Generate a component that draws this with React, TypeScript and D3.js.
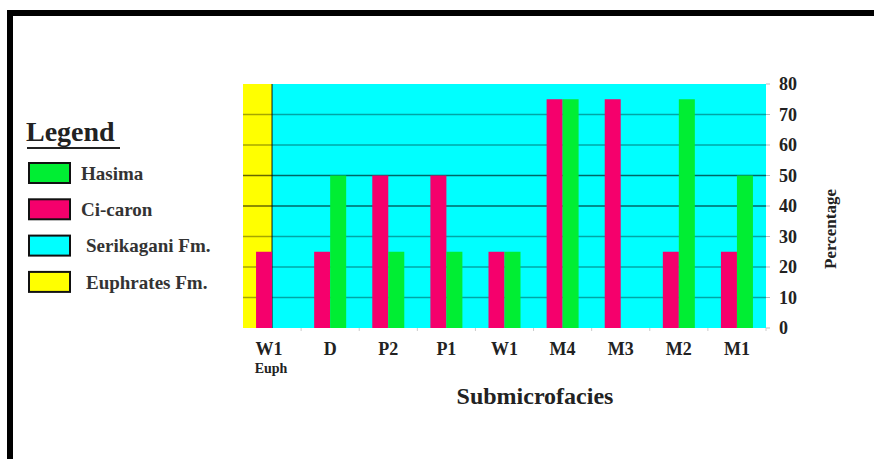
import React from "react";
import * as d3 from "d3";

const categories = ["W1", "D", "P2", "P1", "W1", "M4", "M3", "M2", "M1"];
const subLabels = ["Euph", "", "", "", "", "", "", "", ""];
const ciCaron = [25, 25, 50, 50, 25, 75, 75, 25, 25];
const hasima = [0, 50, 25, 25, 25, 75, 0, 75, 50];
const yTicks = [0, 10, 20, 30, 40, 50, 60, 70, 80];
const legendItems = [
  { label: "Hasima", color: "#00ee33" },
  { label: "Ci-caron", color: "#f5006c" },
  { label: "Serikagani Fm.", color: "#00ffff" },
  { label: "Euphrates Fm.", color: "#ffff00" },
];

const W = 874;
const H = 459;
const FONT = "'Liberation Serif', 'Times New Roman', serif";

export default function App() {
  const ids = categories.map((_, i) => String(i));
  const x = d3.scaleBand<string>().domain(ids).range([243, 766]).padding(0);
  const y = d3.scaleLinear().domain([0, 80]).range([328, 84]);
  const barW = 16;
  const center = (i: number) => (x(String(i)) as number) + x.bandwidth() / 2;
  const [y0, y1] = y.range();
  const plotL = x.range()[0];
  const plotR = x.range()[1];
  const euphEnd = center(0);

  return (
    <svg
      width={W}
      height={H}
      style={{ position: "absolute", left: 0, top: 0, background: "#fff" }}
      fontFamily={FONT}
    >
      {/* outer frame */}
      <rect x={10} y={13} width={W + 20} height={H + 20} fill="none" stroke="#000" strokeWidth={6} />

      {/* backgrounds */}
      <rect x={plotL} y={y1} width={euphEnd - plotL} height={y0 - y1} fill="#ffff00" />
      <rect x={euphEnd} y={y1} width={plotR - euphEnd} height={y0 - y1} fill="#00ffff" />

      {/* gridlines */}
      {yTicks.slice(1, -1).map((t) => (
        <line
          key={t}
          x1={plotL}
          x2={plotR}
          y1={y(t)}
          y2={y(t)}
          stroke="#000"
          strokeOpacity={t === 40 || t === 50 ? 0.6 : 0.35}
          strokeWidth={1.3}
        />
      ))}
      <line x1={euphEnd} x2={euphEnd} y1={y1} y2={y0} stroke="#000" strokeOpacity={0.6} strokeWidth={1.5} />

      {/* bars */}
      {ciCaron.map((v, i) => (
        <rect key={"c" + i} x={center(i) - barW} y={y(v)} width={barW} height={y0 - y(v)} fill="#f5006c" />
      ))}
      {hasima.map((v, i) =>
        v > 0 ? (
          <rect key={"h" + i} x={center(i)} y={y(v)} width={barW} height={y0 - y(v)} fill="#00ee33" />
        ) : null
      )}

      {/* right axis */}
      {yTicks.map((t) => (
        <g key={t}>
          <line x1={plotR} x2={plotR + 4} y1={y(t)} y2={y(t)} stroke="#bbb" strokeWidth={1} />
          <text x={779} y={y(t)} dy="0.35em" fontSize={18} fontWeight="bold" fill="#222">
            {t}
          </text>
        </g>
      ))}
      <text
        transform={`translate(836, 229) rotate(-90)`}
        textAnchor="middle"
        fontSize={17}
        fontWeight="bold"
        fill="#222"
      >
        Percentage
      </text>

      {/* bottom ticks */}
      {ids.map((id) => (
        <line
          key={id}
          x1={(x(id) as number) + x.bandwidth()}
          x2={(x(id) as number) + x.bandwidth()}
          y1={y0}
          y2={y0 + 3}
          stroke="#ccc"
        />
      ))}

      {/* x labels */}
      {categories.map((c, i) => (
        <g key={"l" + i}>
          <text x={center(i) - (i === 0 ? 3 : 0)} y={355} textAnchor="middle" fontSize={18} fontWeight="bold" fill="#222">
            {c}
          </text>
          {subLabels[i] ? (
            <text x={center(i) - 1} y={373} textAnchor="middle" fontSize={14} fontWeight="bold" fill="#222">
              {subLabels[i]}
            </text>
          ) : null}
        </g>
      ))}
      <text x={535} y={404} textAnchor="middle" fontSize={24} fontWeight="bold" fill="#222">
        Submicrofacies
      </text>

      {/* legend */}
      <text x={26} y={141} fontSize={28} fontWeight="bold" fill="#222">
        Legend
      </text>
      <line x1={27} x2={120} y1={148} y2={148} stroke="#222" strokeWidth={2} />
      {legendItems.map((it, i) => (
        <g key={it.label}>
          <rect x={29} y={163 + i * 36.3} width={41} height={20} fill={it.color} stroke="#111" strokeWidth={2} />
          <text x={i < 2 ? 81 : 86} y={173 + i * 36.3} dy="0.35em" fontSize={19} fontWeight="bold" fill="#333">
            {it.label}
          </text>
        </g>
      ))}
    </svg>
  );
}
